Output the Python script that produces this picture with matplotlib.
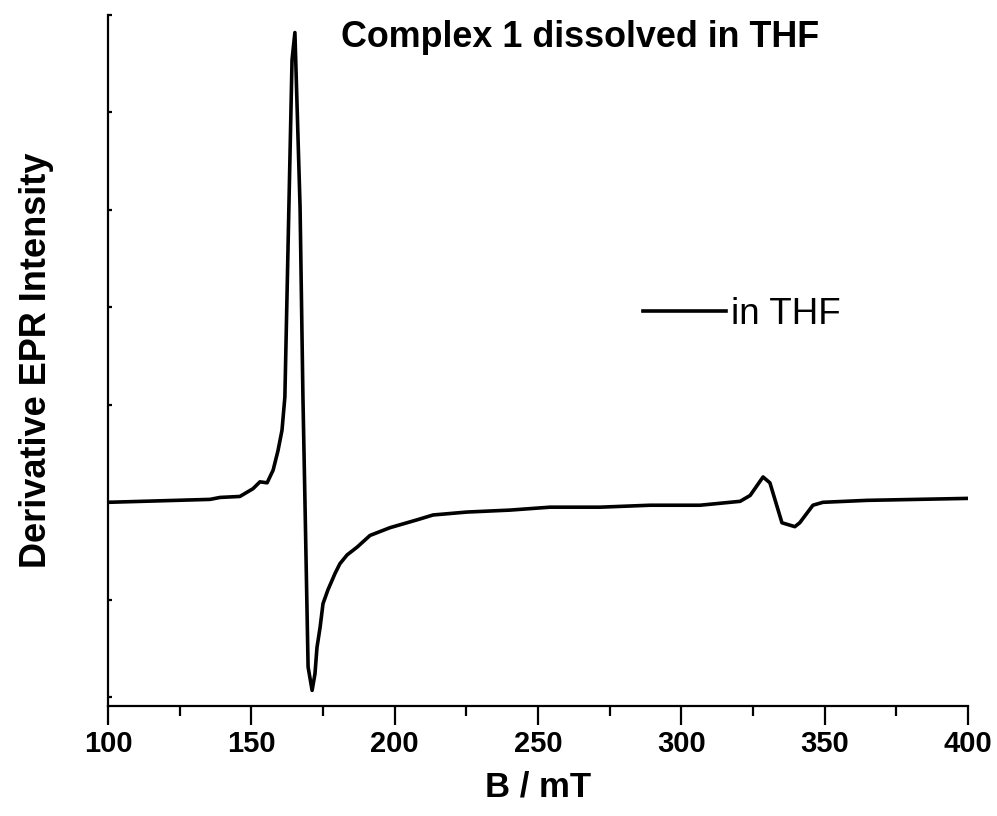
import matplotlib
matplotlib.use("Agg")
import matplotlib.pyplot as plt
from matplotlib.ticker import MultipleLocator, NullFormatter

plt.rcParams['font.family'] = ['Liberation Sans', 'DejaVu Sans']

# Data (B in mT, derivative intensity in arbitrary units)
field_mT = [100.0, 135.6, 139.1, 146.0, 150.6, 153.0, 155.5, 157.6, 159.3, 160.7,
            161.7, 163.1, 164.2, 165.2, 167.0, 168.0, 168.7, 169.8, 171.2, 172.2,
            172.9, 174.0, 175.0, 176.7, 179.2, 180.9, 183.4, 186.9, 191.4, 198.4,
            207.8, 213.4, 225.2, 240.2, 254.2, 271.6, 289.1, 306.5, 320.5, 324.0,
            328.5, 330.9, 335.1, 339.6, 341.3, 345.9, 349.4, 364.8, 399.7]
intensity = [0.00, 0.03, 0.05, 0.06, 0.14, 0.21, 0.20, 0.33, 0.53, 0.74,
             1.08, 3.03, 4.54, 4.82, 3.03, 1.08, 0.02, -1.69, -1.93, -1.76,
             -1.49, -1.28, -1.04, -0.90, -0.73, -0.63, -0.54, -0.46, -0.34, -0.26,
             -0.18, -0.13, -0.10, -0.08, -0.05, -0.05, -0.03, -0.03, 0.01, 0.07,
             0.26, 0.20, -0.21, -0.25, -0.21, -0.03, 0.00, 0.02, 0.04]

series_label = "in THF"
title_text = "Complex 1 dissolved in THF"
x_label = "B / mT"
y_label = "Derivative EPR Intensity"

fig = plt.figure(figsize=(9.97, 8.16), dpi=100)
ax = fig.add_axes([108/997, 1-706/816, 860/997, 691/816])

ax.plot(field_mT, intensity, color='black', lw=2.6, label=series_label)

ax.set_xlim(100, 400)
ax.set_ylim(-2.09, 5.0)

for s in ['top', 'right']:
    ax.spines[s].set_visible(False)
for s in ['left', 'bottom']:
    ax.spines[s].set_linewidth(1.6)

ax.xaxis.set_major_locator(MultipleLocator(50))
ax.xaxis.set_minor_locator(MultipleLocator(25))
ax.yaxis.set_major_locator(MultipleLocator(1))
ax.yaxis.set_major_formatter(NullFormatter())

ax.tick_params(axis='x', which='major', direction='out', length=14, width=1.6,
               labelsize=21, pad=3)
ax.tick_params(axis='x', which='minor', direction='out', length=7, width=1.6)
ax.tick_params(axis='y', which='major', direction='in', length=3, width=1.6)
for lab in ax.get_xticklabels():
    lab.set_fontweight('bold')

ax.set_xlabel(x_label, fontsize=25, fontweight='bold')
ax.xaxis.set_label_coords(0.5, -0.094)
ax.set_ylabel(y_label, fontsize=26, fontweight='bold')
ax.yaxis.set_label_coords(-0.063, 0.5)

ax.text(0.549, 0.967, title_text, transform=ax.transAxes, ha='center', va='center',
        fontsize=25.8, fontweight='bold')

ax.legend(loc='center left', bbox_to_anchor=(0.622, 0.567), frameon=False,
          fontsize=26.5, handlelength=2.25, handletextpad=0.15, borderpad=0,
          borderaxespad=0)

fig.savefig("out.png", dpi=100)
